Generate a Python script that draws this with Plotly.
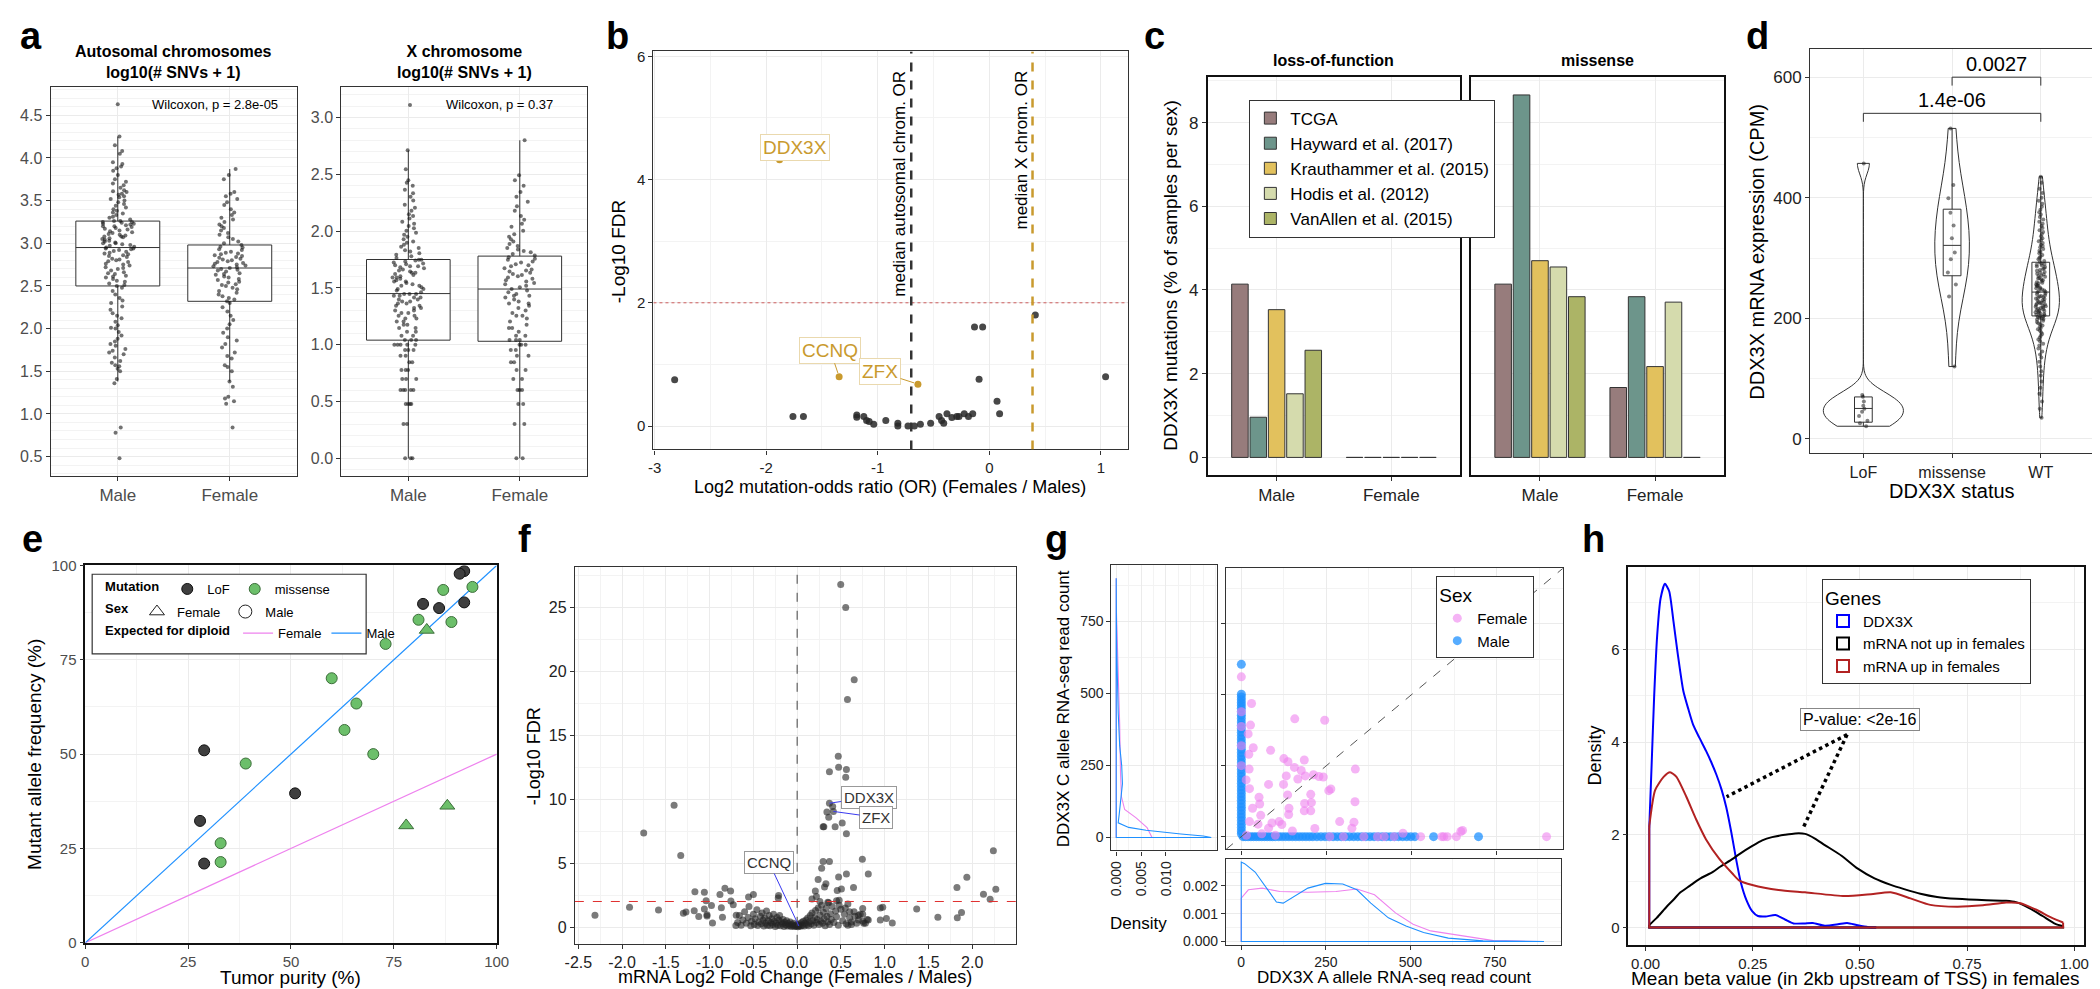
import numpy as np
import plotly.graph_objects as go

W, H = 2100, 989
FONT = "Liberation Sans, Arial, sans-serif"
GOLD = "#C99A2E"
PINK = "#EE82EE"
BLUE = "#1E90FF"

# ---------------- data ----------------
sexes = ["Male", "Female"]

# a) SNV burden per sample, log10(# SNVs + 1), autosomes
auto_male = [0.48, 0.78, 0.84, 1.36, 1.41, 1.50, 1.53, 1.56, 1.57, 1.60, 1.62, 1.66, 1.70, 1.72, 1.74, 1.76, 1.80,
             1.82, 1.85, 1.88, 1.92, 1.96, 2.00, 2.01, 2.04, 2.08, 2.12, 2.15, 2.18, 2.22, 2.26, 2.30, 2.33, 2.36,
             2.40, 2.44, 2.48, 2.50, 2.51, 2.53, 2.55, 2.56, 2.58, 2.60, 2.61, 2.62, 2.64, 2.65, 2.66, 2.68, 2.70,
             2.71, 2.72, 2.74, 2.75, 2.76, 2.78, 2.79, 2.80, 2.81, 2.82, 2.84, 2.85, 2.86, 2.87, 2.88, 2.89, 2.90,
             2.91, 2.92, 2.93, 2.94, 2.94, 2.95, 2.96, 2.97, 2.98, 2.99, 3.00, 3.00, 3.01, 3.02, 3.03, 3.04, 3.05,
             3.06, 3.07, 3.08, 3.08, 3.09, 3.10, 3.11, 3.12, 3.13, 3.14, 3.15, 3.16, 3.17, 3.18, 3.19, 3.20, 3.20,
             3.21, 3.22, 3.23, 3.23, 3.24, 3.25, 3.25, 3.26, 3.26, 3.28, 3.30, 3.31, 3.33, 3.35, 3.36, 3.38, 3.40,
             3.42, 3.44, 3.46, 3.48, 3.50, 3.52, 3.54, 3.55, 3.57, 3.58, 3.60, 3.61, 3.62, 3.65, 3.68, 3.70, 3.72,
             3.75, 3.80, 3.85, 3.88, 3.90, 3.93, 3.95, 4.05, 4.08, 4.15, 4.25, 4.63]
auto_female = [0.84, 1.12, 1.15, 1.18, 1.20, 1.32, 1.38, 1.50, 1.55, 1.57, 1.65, 1.68, 1.72, 1.78, 1.82, 1.86, 1.90,
               1.95, 2.00, 2.05, 2.10, 2.15, 2.20, 2.25, 2.30, 2.32, 2.34, 2.36, 2.38, 2.40, 2.42, 2.44, 2.46, 2.48,
               2.50, 2.51, 2.52, 2.54, 2.55, 2.57, 2.58, 2.60, 2.61, 2.63, 2.64, 2.65, 2.67, 2.68, 2.69, 2.70, 2.71,
               2.72, 2.73, 2.74, 2.75, 2.76, 2.77, 2.78, 2.79, 2.80, 2.81, 2.82, 2.83, 2.84, 2.85, 2.86, 2.87, 2.88,
               2.89, 2.90, 2.92, 2.93, 2.95, 2.96, 2.98, 3.00, 3.02, 3.05, 3.07, 3.10, 3.12, 3.15, 3.18, 3.20, 3.22,
               3.25, 3.28, 3.30, 3.33, 3.36, 3.40, 3.45, 3.48, 3.52, 3.55, 3.58, 3.60, 3.75, 3.80, 3.87]
# a) X chromosome SNV counts per sample
xchr_male_counts = [0, 0, 0, 1, 1, 2, 2, 2, 2, 3, 3, 3, 3, 3, 4, 4, 4, 5, 5, 5, 6, 6, 7, 7, 8, 8, 8, 9, 9, 9, 9, 9,
                    10, 10, 10, 11, 11, 12, 12, 13, 13, 14, 14, 15, 15, 16, 16, 17, 17, 18, 18, 19, 19, 20, 20, 21,
                    21, 22, 22, 23, 23, 24, 24, 25, 25, 26, 26, 27, 27, 27, 28, 29, 30, 30, 31, 32, 32, 33, 34, 35,
                    35, 36, 37, 38, 38, 39, 40, 41, 42, 42, 43, 44, 45, 46, 47, 48, 48, 49, 50, 51, 52, 53, 54, 55,
                    55, 57, 59, 61, 63, 65, 67, 70, 72, 75, 78, 80, 84, 88, 92, 96, 100, 105, 110, 115, 120, 128,
                    135, 140, 150, 160, 170, 185, 200, 215, 230, 250, 265, 280, 350, 515, 1287]
xchr_female_counts = [0, 0, 1, 1, 2, 2, 3, 3, 3, 4, 4, 5, 5, 6, 6, 7, 7, 8, 8, 9, 9, 9, 10, 10, 10, 11, 11, 12, 13,
                      13, 14, 15, 16, 17, 17, 18, 19, 20, 21, 22, 22, 23, 24, 25, 26, 26, 27, 28, 29, 30, 31, 32,
                      33, 34, 35, 36, 37, 38, 39, 40, 41, 42, 43, 44, 45, 46, 48, 49, 50, 52, 53, 55, 56, 58, 60,
                      62, 64, 66, 68, 70, 73, 76, 80, 84, 88, 93, 100, 108, 115, 125, 135, 150, 165, 180, 200, 220,
                      250, 280, 310, 630]
auto_q1, auto_med, auto_q3 = [2.50, 2.32], [2.95, 2.71], [3.26, 2.98]
auto_lo, auto_hi = [1.38, 1.38], [4.25, 3.87]
xchr_q1, xchr_med, xchr_q3 = [1.04, 1.03], [1.45, 1.49], [1.75, 1.78]
xchr_lo, xchr_hi = [0.0, 0.0], [2.71, 2.80]
wilcox_p = ["2.8e-05", "0.37"]

# b) mutation odds ratio vs FDR, X-linked genes
b_genes = [(-2.82, 0.75), (-1.76, 0.155), (-1.666, 0.155), (-1.188, 0.18), (-1.188, 0.144), (-1.125, 0.155),
           (-1.10, 0.09), (-1.077, 0.075), (-1.036, 0.027), (-0.928, 0.09), (-0.82, 0.043), (-0.82, 0.0),
           (-0.729, 0.0), (-0.672, 0.0), (-0.618, 0.027), (-0.526, 0.043), (-0.45, 0.155), (-0.428, 0.09),
           (-0.409, 0.043), (-0.38, 0.2), (-0.336, 0.139), (-0.292, 0.155), (-0.272, 0.155), (-0.225, 0.2),
           (-0.187, 0.155), (-0.149, 0.2), (-0.133, 1.607), (-0.06, 1.607), (-0.092, 0.76), (0.069, 0.404),
           (0.092, 0.2), (0.412, 1.8), (1.042, 0.8)]
b_hits = {"DDX3X": (-1.88, 4.32), "CCNQ": (-1.346, 0.80), "ZFX": (-0.64, 0.68)}
median_or_auto = -0.70
median_or_x = 0.387
fdr_cut = 2

# c) DDX3X mutation frequency per cohort
cohorts = ["TCGA", "Hayward et al. (2017)", "Krauthammer et al. (2015)", "Hodis et al. (2012)", "VanAllen et al. (2015)"]
cohort_colors = ["#977C7C", "#6D958B", "#E2C15D", "#D5DBAD", "#ACB466"]
lof_male = [4.14, 0.96, 3.53, 1.52, 2.56]
lof_female = [0, 0, 0, 0, 0]
mis_male = [4.14, 8.66, 4.70, 4.55, 3.84]
mis_female = [1.67, 3.84, 2.17, 3.71, 0]

# d) DDX3X expression by mutation status
status = ["LoF", "missense", "WT"]
expr_lof = [457, 73, 70, 62, 55, 50, 45, 38, 30, 26, 21]
expr_mis = [515, 421, 399, 375, 354, 333, 309, 298, 276, 256, 236, 120]
expr_wt = [35, 50, 62, 75, 85, 95, 105, 112, 120, 128, 135, 140, 145, 150, 155, 158, 162, 165, 168, 171, 174, 177,
           180, 182, 184, 186, 188, 190, 192, 194, 196, 198, 199, 200, 201, 202, 203, 204, 205, 206, 207, 208, 209,
           210, 211, 212, 213, 214, 215, 216, 217, 218, 219, 220, 221, 222, 223, 224, 225, 226, 227, 228, 229, 230,
           232, 233, 234, 235, 236, 237, 238, 240, 241, 243, 244, 245, 246, 248, 249, 250, 251, 253, 254, 255, 256,
           258, 259, 260, 262, 263, 265, 266, 267, 269, 270, 271, 273, 274, 276, 277, 279, 280, 282, 283, 285, 286,
           288, 289, 290, 291, 293, 295, 298, 300, 302, 305, 308, 310, 312, 315, 318, 320, 322, 325, 328, 330, 333,
           336, 340, 343, 346, 350, 353, 357, 360, 364, 368, 372, 376, 380, 385, 390, 395, 400, 408, 415, 425, 435]
expr_q1, expr_med, expr_q3 = [27.7, 270.6, 204], [50.5, 321, 243.5], [69.6, 381, 293]
expr_lo, expr_hi = [20.6, 120, 70], [73.4, 515, 435]
comparisons = [("LoF", "WT", 540, "1.4e-06"), ("missense", "WT", 600, "0.0027")]

# e) tumour purity vs mutant allele frequency
e_lof_male = [(92.1, 98.5), (91.0, 97.8), (82.1, 89.8), (86.0, 88.7), (92.1, 90.2), (28.9, 51.0), (51.0, 39.6),
              (27.9, 32.3), (28.9, 21.0)]
e_mis_male = [(87.0, 93.5), (94.1, 94.3), (81.0, 85.6), (89.0, 85.0), (73.0, 79.2), (59.9, 70.1), (65.9, 63.4),
              (63.0, 56.4), (70.0, 50.0), (39.0, 47.5), (32.9, 26.4), (32.9, 21.4)]
e_mis_female = [(83.0, 82.9), (88.0, 36.3), (78.0, 31.1)]
purity_ref = [0, 100]

# f) mRNA volcano, X-linked genes
f_genes = [(0.498, 26.8), (0.555, 25.0), (0.652, 19.36), (0.575, 17.8), (0.47, 13.36), (0.474, 12.5), (0.563, 12.33),
           (0.369, 12.15), (0.555, 11.72), (0.369, 9.69), (0.406, 9.44), (0.34, 9.0), (0.414, 9.05), (0.361, 8.6),
           (0.515, 8.15), (0.297, 7.85), (0.305, 7.85), (0.434, 7.85), (0.563, 7.3), (0.745, 5.3), (0.297, 5.13),
           (0.369, 5.13), (0.28, 4.6), (0.563, 4.15), (0.813, 4.15), (0.474, 3.92), (0.24, 3.72), (0.329, 3.38),
           (0.313, 3.13), (0.644, 3.1), (0.458, 2.87), (0.506, 2.97), (0.208, 2.82), (2.242, 5.97), (1.939, 3.9),
           (1.826, 3.1), (2.27, 2.95), (2.129, 2.56), (2.205, 2.18), (1.366, 1.41), (1.878, 1.13), (1.608, 0.77),
           (1.83, 0.72), (0.95, 1.49), (0.978, 1.54), (0.95, 0.56), (1.02, 0.67), (1.087, 0.31), (0.813, 0.56),
           (0.749, 1.0), (0.749, 1.46), (-1.406, 9.54), (-1.753, 7.36), (-1.33, 5.6), (-2.31, 0.92), (-1.915, 1.54),
           (-1.584, 1.33), (-1.3, 1.08), (-1.27, 1.18), (-1.168, 2.77), (-1.06, 2.72), (-1.04, 2.05), (-1.176, 1.28),
           (-1.124, 0.82), (-1.06, 1.41), (-0.979, 1.69), (-1.03, 0.97), (-1.03, 0.87), (-0.967, 0.31),
           (-0.866, 1.51), (-0.882, 2.54), (-0.825, 3.03), (-0.76, 2.82), (-0.757, 2.03), (-0.73, 1.74),
           (-0.853, 0.77), (-0.696, 0.92), (-0.555, 2.36), (-0.5, 2.54), (-0.212, 2.46), (-0.216, 2.28),
           (0.17, 2.2), (0.22, 2.4), (0.26, 2.0), (0.35, 1.95), (0.45, 2.05), (0.48, 1.7), (0.55, 1.5), (0.6, 1.2),
           (0.66, 0.85), (0.7, 0.55), (0.76, 0.3), (0.62, 0.2), (0.58, 0.15),
           (-0.70, 0.12), (-0.68, 0.35), (-0.66, 0.9), (-0.64, 0.15), (-0.62, 0.55), (-0.60, 1.2), (-0.58, 0.3),
           (-0.56, 0.75), (-0.55, 1.6), (-0.53, 0.1), (-0.52, 0.45), (-0.50, 1.0), (-0.49, 0.2), (-0.48, 0.65),
           (-0.46, 1.35), (-0.45, 0.12), (-0.44, 0.4), (-0.42, 0.85), (-0.41, 0.25), (-0.40, 1.1), (-0.39, 0.55),
           (-0.38, 0.08), (-0.37, 0.7), (-0.36, 0.3), (-0.35, 1.25), (-0.34, 0.15), (-0.33, 0.5), (-0.32, 0.9),
           (-0.31, 0.1), (-0.30, 0.35), (-0.29, 0.65), (-0.28, 0.2), (-0.27, 1.0), (-0.26, 0.45), (-0.25, 0.05),
           (-0.24, 0.3), (-0.23, 0.75), (-0.22, 0.15), (-0.21, 0.55), (-0.20, 0.9), (-0.19, 0.1), (-0.18, 0.4),
           (-0.17, 0.25), (-0.16, 0.6), (-0.15, 0.05), (-0.14, 0.35), (-0.13, 0.18), (-0.12, 0.5), (-0.11, 0.08),
           (-0.10, 0.3), (-0.09, 0.15), (-0.08, 0.4), (-0.07, 0.05), (-0.06, 0.22), (-0.05, 0.1), (-0.04, 0.3),
           (-0.03, 0.04), (-0.02, 0.15), (-0.01, 0.06), (0.00, 0.2), (0.02, 0.08), (0.01, 0.03), (0.02, 0.12),
           (0.03, 0.25), (0.04, 0.06), (0.05, 0.35), (0.06, 0.15), (0.07, 0.45), (0.08, 0.08), (0.09, 0.3),
           (0.10, 0.55), (0.11, 0.2), (0.12, 0.7), (0.13, 0.1), (0.14, 0.4), (0.15, 0.9), (0.16, 0.25), (0.17, 1.1),
           (0.18, 0.5), (0.19, 0.15), (0.20, 0.75), (0.21, 1.3), (0.22, 0.35), (0.23, 0.6), (0.24, 1.5), (0.25, 0.2),
           (0.26, 0.95), (0.27, 0.45), (0.28, 1.7), (0.29, 0.3), (0.30, 1.15), (0.31, 0.65), (0.32, 0.1),
           (0.33, 1.45), (0.34, 0.85), (0.35, 0.4), (0.36, 1.9), (0.37, 0.2), (0.38, 1.05), (0.39, 0.6), (0.40, 1.6),
           (0.42, 0.35), (0.44, 1.25), (0.45, 0.8), (0.47, 0.15), (0.48, 2.1), (0.50, 1.4), (0.52, 0.5), (0.54, 1.0),
           (0.56, 0.25), (0.58, 1.8), (0.60, 0.7), (0.62, 0.4), (0.65, 1.2), (0.68, 0.3), (0.70, 0.9), (0.72, 1.0),
           (0.75, 0.45), (0.78, 0.3), (0.80, 0.6)]
f_labels = {"DDX3X": ((0.369, 9.69), (0.817, 10.15)), "ZFX": ((0.414, 9.05), (0.902, 8.59)),
            "CCNQ": ((0.02, 0.08), (-0.321, 5.05))}

# g) allele-specific read counts (A allele, C allele)
g_male_c_only = [607, 502, 492, 482, 472, 462, 452, 440, 428, 416, 404, 392, 380, 368, 356, 344, 332, 320, 308, 296,
                 284, 272, 260, 248, 236, 224, 212, 200, 188, 176, 164, 152, 140, 128, 116, 104, 92, 80, 68, 56, 44,
                 32, 20, 10]
g_male_a_only = [5, 12, 20, 28, 36, 44, 52, 60, 68, 76, 84, 92, 100, 110, 120, 130, 140, 150, 160, 170, 180, 190, 200,
                 210, 222, 234, 246, 258, 270, 282, 294, 306, 318, 330, 342, 354, 366, 378, 390, 402, 414, 426, 438,
                 450, 462, 474, 486, 498, 510, 565, 697]
g_female = [(0, 563), (30, 469), (157, 415), (245, 410), (27, 393), (0, 388), (20, 362), (35, 313), (86, 304),
            (22, 290), (125, 275), (185, 270), (137, 264), (335, 238), (156, 244), (23, 238), (176, 233), (212, 218),
            (188, 214), (228, 212), (241, 210), (132, 214), (166, 203), (14, 200), (80, 184), (124, 184), (263, 168),
            (257, 162), (24, 169), (136, 147), (204, 149), (52, 139), (334, 123), (206, 120), (186, 117), (54, 115),
            (33, 100), (140, 100), (204, 91), (185, 91), (139, 78), (57, 75), (289, 53), (331, 51), (24, 53), (90, 48),
            (111, 53), (119, 43), (49, 44), (216, 29), (325, 30), (80, 30), (645, 18), (650, 22), (897, 0), (632, 0),
            (605, 0), (595, 0), (589, 0), (527, 0), (475, 12), (449, 0), (0, 320), (0, 440), (0, 250), (15, 5),
            (60, 10), (100, 5), (260, 0), (300, 0), (360, 0), (400, 0), (420, 0), (150, 20)]
g_c_grid_m = [0, 5, 12, 17, 25, 35, 51, 80, 130, 187, 250, 318, 432, 545, 659, 780, 900]
g_c_dens_m = [0.0191, 0.0175, 0.0130, 0.0098, 0.0060, 0.0025, 0.0004, 0.0006, 0.0009, 0.00125, 0.0011, 0.0007,
              0.0004, 0.0002, 0.0001, 0.00003, 0.0]
g_c_grid_f = [0, 34, 68, 97, 142, 222, 392, 505, 597, 676, 800, 900]
g_c_dens_f = [0.0072, 0.0062, 0.0040, 0.0017, 0.00105, 0.00086, 0.0007, 0.0005, 0.0003, 0.0001, 0.00002, 0.0]
g_a_grid_m = [0, 10, 41, 72, 104, 124, 155, 197, 249, 300, 342, 383, 435, 487, 539, 612, 715, 800, 895]
g_a_dens_m = [0.00286, 0.0028, 0.0025, 0.00198, 0.00142, 0.00138, 0.00162, 0.00192, 0.00209, 0.00207, 0.00186,
              0.00138, 0.00085, 0.00056, 0.00032, 0.00012, 0.00002, 0.00001, 0.0]
g_a_grid_f = [0, 21, 62, 114, 197, 280, 342, 394, 456, 508, 560, 612, 674, 746, 820, 895]
g_a_dens_f = [0.00156, 0.00186, 0.00192, 0.0018, 0.00177, 0.0018, 0.00189, 0.00168, 0.00103, 0.00062, 0.00038,
              0.00028, 0.00017, 0.00003, 0.00001, 0.0]

# h) promoter methylation densities
h_beta_ddx3x = [0.0085, 0.014, 0.02, 0.027, 0.035, 0.045, 0.055, 0.065, 0.075, 0.088, 0.1, 0.111, 0.125, 0.141, 0.153,
                0.165, 0.177, 0.188, 0.2, 0.211, 0.222, 0.235, 0.249, 0.262, 0.28, 0.303, 0.326, 0.345, 0.37, 0.39,
                0.418, 0.449, 0.47, 0.495, 0.52, 0.538]
h_dens_ddx3x = [2.15, 3.5, 5.0, 6.3, 7.1, 7.41, 7.25, 6.6, 5.9, 5.1, 4.7, 4.37, 4.1, 3.81, 3.57, 3.3, 2.98, 2.6, 2.05,
                1.48, 0.98, 0.6, 0.35, 0.25, 0.24, 0.27, 0.17, 0.09, 0.09, 0.1, 0.04, 0.07, 0.1, 0.05, 0.01, 0.0]
h_beta_notup = [0.0085, 0.026, 0.049, 0.065, 0.08, 0.103, 0.126, 0.157, 0.172, 0.203, 0.218, 0.249, 0.272, 0.295,
                0.325, 0.349, 0.372, 0.395, 0.418, 0.457, 0.495, 0.534, 0.572, 0.603, 0.641, 0.68, 0.726, 0.795,
                0.841, 0.864, 0.895, 0.926, 0.956, 0.974]
h_dens_notup = [0.056, 0.21, 0.45, 0.6, 0.75, 0.9, 1.05, 1.2, 1.3, 1.48, 1.58, 1.76, 1.88, 1.95, 2.0, 2.03, 2.02, 1.92,
                1.78, 1.55, 1.27, 1.06, 0.92, 0.83, 0.73, 0.66, 0.62, 0.59, 0.58, 0.55, 0.42, 0.25, 0.08, 0.03]
h_beta_up = [0.0085, 0.022, 0.042, 0.057, 0.072, 0.095, 0.118, 0.141, 0.172, 0.203, 0.218, 0.249, 0.31, 0.372, 0.464,
             0.526, 0.572, 0.618, 0.664, 0.726, 0.787, 0.841, 0.872, 0.91, 0.948, 0.974]
h_dens_up = [2.19, 2.96, 3.25, 3.35, 3.25, 2.82, 2.33, 1.9, 1.48, 1.16, 1.02, 0.92, 0.81, 0.76, 0.68, 0.72, 0.76, 0.63,
             0.49, 0.45, 0.48, 0.54, 0.53, 0.39, 0.21, 0.11]
h_pvalue = "P-value: &lt;2e-16"


# ---------------- helpers ----------------
def xd(a, b):
    return [a / W, b / W]


def yd(top, bottom):
    return [1 - bottom / H, 1 - top / H]


def minor(dtick):
    return dict(showgrid=True, gridcolor="#F3F3F3", gridwidth=0.7, tickmode="linear", tick0=0, dtick=dtick)


def axis(domain, anchor, rng, size=15, color="#222222", line="#333333", lw=1.2, **kw):
    d = dict(domain=domain, anchor=anchor, range=rng, showline=True, mirror=True, linecolor=line, linewidth=lw,
             ticks="outside", ticklen=4, tickcolor="#333333", tickwidth=1, showgrid=True, gridcolor="#EBEBEB",
             gridwidth=1, zeroline=False, tickfont=dict(size=size, color=color, family=FONT))
    d.update(kw)
    return d


def txt(x, y, s, size=18, **kw):
    # text placed in page pixels, centred on (x, y)
    d = dict(x=x / W, y=1 - y / H, xref="paper", yref="paper", text=s, showarrow=False,
             xanchor="center", yanchor="middle", font=dict(size=size, color="black", family=FONT))
    d.update(kw)
    return d


fig = go.Figure()
annotations = []
shapes = []

# ---------------- a ----------------
a_sets = [("x", "y", auto_male, auto_female, auto_q1, auto_med, auto_q3, auto_lo, auto_hi),
          ("x2", "y2", list(np.log10(np.array(xchr_male_counts) + 1)),
           list(np.log10(np.array(xchr_female_counts) + 1)), xchr_q1, xchr_med, xchr_q3, xchr_lo, xchr_hi)]
for xa, ya, vm, vf, q1, md, q3, lo, hi in a_sets:
    fig.add_trace(go.Box(x=sexes, q1=q1, median=md, q3=q3, lowerfence=lo, upperfence=hi, width=0.75,
                         whiskerwidth=0, fillcolor="white", line=dict(color="#333333", width=1),
                         boxpoints=False, xaxis=xa, yaxis=ya, showlegend=False, hoverinfo="skip"))
    for sex, vals in zip(sexes, [vm, vf]):
        fig.add_trace(go.Box(x=[sex] * len(vals), y=vals, boxpoints="all", jitter=0.4, pointpos=0, width=0.75,
                             fillcolor="rgba(0,0,0,0)", line=dict(width=0, color="rgba(0,0,0,0)"),
                             marker=dict(size=4, color="rgba(20,20,20,0.6)"), xaxis=xa, yaxis=ya,
                             showlegend=False, hoverinfo="skip"))

annotations += [
    txt(157, 46, "<b>Autosomal chromosomes<br>log10(# SNVs + 1)</b>", 16),
    txt(451, 46, "<b>X chromosome<br>log10(# SNVs + 1)</b>", 16),
    txt(199, 89, "Wilcoxon, p = " + wilcox_p[0], 13),
    txt(487, 89, "Wilcoxon, p = " + wilcox_p[1], 13),
]

# ---------------- b ----------------
fig.add_trace(go.Scatter(x=[p[0] for p in b_genes], y=[p[1] for p in b_genes], mode="markers",
                         marker=dict(size=7, color="rgba(40,40,40,0.85)"), xaxis="x3", yaxis="y3",
                         showlegend=False, hoverinfo="skip"))
fig.add_trace(go.Scatter(x=[v[0] for v in b_hits.values()], y=[v[1] for v in b_hits.values()], mode="markers",
                         marker=dict(size=7, color=GOLD), xaxis="x3", yaxis="y3", showlegend=False,
                         hoverinfo="skip"))
shapes += [
    dict(type="line", xref="x3", yref="y3", x0=-3.01, x1=1.24, y0=fdr_cut, y1=fdr_cut,
         line=dict(color="#CD5C5C", width=1, dash="dot")),
    dict(type="line", xref="x3", yref="y3", x0=median_or_auto, x1=median_or_auto, y0=-0.38, y1=6.08,
         line=dict(color="#333333", width=2.5, dash="dash")),
    dict(type="line", xref="x3", yref="y3", x0=median_or_x, x1=median_or_x, y0=-0.38, y1=6.08,
         line=dict(color=GOLD, width=2.5, dash="dash")),
]
annotations += [
    dict(x=median_or_auto - 0.1, y=5.8, xref="x3", yref="y3", text="median autosomal chrom. OR", textangle=-90,
         showarrow=False, xanchor="center", yanchor="top", font=dict(size=17, color="black", family=FONT)),
    dict(x=median_or_x - 0.1, y=5.8, xref="x3", yref="y3", text="median X chrom. OR", textangle=-90,
         showarrow=False, xanchor="center", yanchor="top", font=dict(size=17, color="black", family=FONT)),
    dict(x=-1.745, y=4.52, xref="x3", yref="y3", text="DDX3X", showarrow=False, bgcolor="white",
         bordercolor="#EAD9AE", borderwidth=1, borderpad=2, font=dict(size=19, color=GOLD, family=FONT)),
]
for gname, lab in (("CCNQ", (-1.426, 1.23)), ("ZFX", (-0.979, 0.878))):
    px_, py_ = b_hits[gname]
    annotations.append(dict(x=px_, y=py_, ax=lab[0], ay=lab[1], xref="x3", yref="y3", axref="x3", ayref="y3",
                            text=gname, showarrow=True, arrowhead=0, arrowwidth=1, arrowcolor=GOLD, standoff=4,
                            bgcolor="white", bordercolor="#EAD9AE", borderwidth=1, borderpad=2,
                            font=dict(size=19, color=GOLD, family=FONT)))
annotations += [
    txt(608, 238, "-Log10 FDR", 19, textangle=-90),
    txt(882, 478, "Log2 mutation-odds ratio (OR) (Females / Males)", 18),
]

# ---------------- c ----------------
for i, name in enumerate(cohorts):
    for xa, ya, m, f in (("x4", "y4", lof_male, lof_female), ("x5", "y5", mis_male, mis_female)):
        fig.add_trace(go.Bar(x=sexes, y=[m[i], f[i]], name=name, xaxis=xa, yaxis=ya, legend="legend",
                             marker=dict(color=cohort_colors[i], line=dict(color="#333333", width=1)),
                             showlegend=(xa == "x4"), hoverinfo="skip"))
annotations += [
    txt(1330, 44, "<b>loss-of-function</b>", 16),
    txt(1597, 44, "<b>missense</b>", 16),
    txt(1165, 263, "DDX3X mutations (% of samples per sex)", 19, textangle=-90),
]

# ---------------- d ----------------
for st, vals, wd in zip(status, [expr_lof, expr_mis, expr_wt], [0.9, 0.39, 0.42]):
    fig.add_trace(go.Violin(x=[st] * len(vals), y=vals, spanmode="hard", scalemode="width", width=wd,
                            line=dict(color="#333333", width=1), fillcolor="rgba(255,255,255,0)", points=False,
                            box_visible=False, meanline_visible=False, xaxis="x6", yaxis="y6",
                            showlegend=False, hoverinfo="skip"))
fig.add_trace(go.Box(x=status, q1=expr_q1, median=expr_med, q3=expr_q3, lowerfence=expr_lo, upperfence=expr_hi,
                     width=0.2, whiskerwidth=0, fillcolor="rgba(255,255,255,0)",
                     line=dict(color="#333333", width=1), boxpoints=False, xaxis="x6", yaxis="y6",
                     showlegend=False, hoverinfo="skip"))
for st, vals in zip(status, [expr_lof, expr_mis, expr_wt]):
    fig.add_trace(go.Box(x=[st] * len(vals), y=vals, boxpoints="all", jitter=0.6, pointpos=0, width=0.2,
                         fillcolor="rgba(0,0,0,0)", line=dict(width=0, color="rgba(0,0,0,0)"),
                         marker=dict(size=4, color="rgba(30,30,30,0.55)"), xaxis="x6", yaxis="y6",
                         showlegend=False, hoverinfo="skip"))
for g1, g2, yb, lab in comparisons:
    i1, i2 = status.index(g1), status.index(g2)
    for xs, ys in (((i1, i1), (yb - 14, yb)), ((i1, i2), (yb, yb)), ((i2, i2), (yb - 14, yb))):
        shapes.append(dict(type="line", xref="x6", yref="y6", x0=xs[0], x1=xs[1], y0=ys[0], y1=ys[1],
                           line=dict(color="#333333", width=1)))
    annotations.append(dict(x=(i1 + i2) / 2, y=yb, xref="x6", yref="y6", text=lab, showarrow=False,
                            yanchor="bottom", font=dict(size=20, color="black", family=FONT)))
annotations += [
    txt(1758, 239, "DDX3X mRNA expression (CPM)", 20, textangle=-90),
    txt(1955, 482, "DDX3X status", 20),
]

# ---------------- e ----------------
fig.add_trace(go.Scatter(x=purity_ref, y=[p / 2 for p in purity_ref], mode="lines", name="Female",
                         line=dict(color=PINK, width=1.2), xaxis="x7", yaxis="y7", legend="legend6"))
fig.add_trace(go.Scatter(x=purity_ref, y=purity_ref, mode="lines", name="Male",
                         line=dict(color=BLUE, width=1.2), xaxis="x7", yaxis="y7", legend="legend6"))
fig.add_trace(go.Scatter(x=[p[0] for p in e_lof_male], y=[p[1] for p in e_lof_male], mode="markers", name="LoF",
                         marker=dict(size=11, color="#3F3F3F", line=dict(color="#111111", width=1)),
                         xaxis="x7", yaxis="y7", legend="legend4"))
fig.add_trace(go.Scatter(x=[p[0] for p in e_mis_male], y=[p[1] for p in e_mis_male], mode="markers",
                         name="missense",
                         marker=dict(size=11, color="#6CBF6A", line=dict(color="#3C6E3A", width=1)),
                         xaxis="x7", yaxis="y7", legend="legend4"))
fig.add_trace(go.Scatter(x=[p[0] for p in e_mis_female], y=[p[1] for p in e_mis_female], mode="markers",
                         marker=dict(size=13, symbol="triangle-up", color="#6CBF6A",
                                     line=dict(color="#3C6E3A", width=1)),
                         xaxis="x7", yaxis="y7", showlegend=False))
for nm, sym in (("Female", "triangle-up-open"), ("Male", "circle-open")):
    fig.add_trace(go.Scatter(x=[None], y=[None], mode="markers", name=nm,
                             marker=dict(size=13, symbol=sym, color="#222222", line=dict(width=1)),
                             xaxis="x7", yaxis="y7", legend="legend5"))
shapes.append(dict(type="rect", xref="paper", yref="paper", x0=75 / W, x1=352 / W, y0=1 - 648 / H, y1=1 - 567 / H,
                   line=dict(color="#333333", width=1.2), fillcolor="white", layer="above"))
annotations += [
    txt(16, 750, "Mutant allele frequency (%)", 19, textangle=-90),
    txt(276, 977, "Tumor purity (%)", 19),
]

# ---------------- f ----------------
fig.add_trace(go.Scatter(x=[p[0] for p in f_genes], y=[p[1] for p in f_genes], mode="markers",
                         marker=dict(size=7, color="rgba(35,35,35,0.6)"), xaxis="x8", yaxis="y8",
                         showlegend=False, hoverinfo="skip"))
shapes += [
    dict(type="line", xref="x8", yref="y8", x0=0, x1=0, y0=-1.31, y1=28.15,
         line=dict(color="#444444", width=1, dash="dash")),
    dict(type="line", xref="x8", yref="y8", x0=-2.54, x1=2.5, y0=fdr_cut, y1=fdr_cut,
         line=dict(color="#E0302F", width=1, dash="dash")),
]
for gname, (pt, lab) in f_labels.items():
    annotations.append(dict(x=pt[0], y=pt[1], ax=lab[0], ay=lab[1], xref="x8", yref="y8", axref="x8", ayref="y8",
                            text=gname, showarrow=True, arrowhead=0, arrowwidth=1, arrowcolor="#3A3AF0",
                            standoff=0, bgcolor="white", bordercolor="#999999", borderwidth=1, borderpad=2,
                            font=dict(size=15, color="#333333", family=FONT)))
annotations += [
    txt(522, 752, "-Log10 FDR", 18, textangle=-90),
    txt(786, 977, "mRNA Log2 Fold Change (Females / Males)", 18),
]

# ---------------- g ----------------
fig.add_trace(go.Scatter(x=[0] * len(g_male_c_only) + g_male_a_only, y=g_male_c_only + [0] * len(g_male_a_only),
                         mode="markers", name="Male", marker=dict(size=9, color="rgba(30,144,255,0.75)"),
                         xaxis="x10", yaxis="y10", legend="legend2"))
fig.add_trace(go.Scatter(x=[p[0] for p in g_female], y=[p[1] for p in g_female], mode="markers", name="Female",
                         marker=dict(size=9, color="rgba(238,130,238,0.6)"), xaxis="x10", yaxis="y10",
                         legend="legend2"))
shapes.append(dict(type="line", xref="x10", yref="y10", x0=-45, x1=945, y0=-45, y1=945,
                   line=dict(color="#555555", width=1, dash="dash")))
for grid, dens, col in ((g_c_grid_f, g_c_dens_f, PINK), (g_c_grid_m, g_c_dens_m, BLUE)):
    fig.add_trace(go.Scatter(x=[0, 0, dens[0]] + dens, y=[grid[-1], 0, 0] + grid, mode="lines",
                             line=dict(color=col, width=1.1), xaxis="x9", yaxis="y9", showlegend=False,
                             hoverinfo="skip"))
for grid, dens, col in ((g_a_grid_f, g_a_dens_f, PINK), (g_a_grid_m, g_a_dens_m, BLUE)):
    fig.add_trace(go.Scatter(x=[grid[-1], 0, 0] + grid, y=[0, 0, dens[0]] + dens, mode="lines",
                             line=dict(color=col, width=1.1), xaxis="x11", yaxis="y11", showlegend=False,
                             hoverinfo="skip"))
annotations += [
    txt(1057, 704, "DDX3X C allele RNA-seq read count", 17, textangle=-90),
    txt(1391, 977, "DDX3X A allele RNA-seq read count", 17),
    txt(1133, 922, "Density", 17),
]

# ---------------- h ----------------
for xs, ys, col, nm in ((h_beta_ddx3x, h_dens_ddx3x, "#0000FF", "DDX3X"),
                        (h_beta_notup, h_dens_notup, "#000000", "mRNA not up in females"),
                        (h_beta_up, h_dens_up, "#B22222", "mRNA up in females")):
    fig.add_trace(go.Scatter(x=xs, y=ys, mode="lines", line=dict(color=col, width=2, shape="spline", smoothing=0.6),
                             xaxis="x12", yaxis="y12", showlegend=False, hoverinfo="skip"))
    fig.add_trace(go.Scatter(x=[xs[0], xs[0], xs[-1], xs[-1]], y=[ys[0], 0, 0, ys[-1]], mode="lines",
                             line=dict(color=col, width=2), xaxis="x12", yaxis="y12", showlegend=False,
                             hoverinfo="skip"))
    fig.add_trace(go.Scatter(x=[None], y=[None], mode="markers", name=nm,
                             marker=dict(size=12, symbol="square-open", color=col, line=dict(width=2)),
                             xaxis="x12", yaxis="y12", legend="legend3"))
for x1, y1 in ((0.189, 2.82), (0.366, 2.12)):
    shapes.append(dict(type="line", xref="x12", yref="y12", x0=0.47, y0=4.16, x1=x1, y1=y1,
                       line=dict(color="black", width=3.5, dash="dot")))
annotations += [
    dict(x=0.5, y=4.49, xref="x12", yref="y12", text=h_pvalue, showarrow=False, bgcolor="white",
         bordercolor="#888888", borderwidth=1, borderpad=2, font=dict(size=16, color="black", family=FONT)),
    txt(1595, 752, "Density", 18, textangle=-90),
    txt(1858, 978, "Mean beta value (in 2kb upstream of TSS) in females", 19),
]

# ---------------- panel letters ----------------
for lt, x, y in (("a", 0, 19), ("b", 592, 19), ("c", 1136, 19), ("d", 1745, 19),
                 ("e", 2, 531), ("f", 504, 531), ("g", 1036, 531), ("h", 1579, 531)):
    annotations.append(txt(x, y, "<b>%s</b>" % lt, 38, xanchor="left"))

# ---------------- layout ----------------
GRAY = "#4D4D4D"
layout = dict(
    width=W, height=H, margin=dict(l=0, r=0, t=0, b=0), autosize=False,
    paper_bgcolor="white", plot_bgcolor="white", font=dict(family=FONT, color="black"),
    bargap=0.2, bargroupgap=0.1, barmode="group", boxmode="overlay", violinmode="overlay",
    violingap=0, violingroupgap=0,
    xaxis=axis(xd(33, 282), "y", [-0.6, 1.6], 17, GRAY, type="category", categoryorder="array",
               categoryarray=sexes),
    yaxis=axis(yd(71, 467), "x", [0.273, 4.834], 16, GRAY, dtick=0.5, tick0=0, tickformat=".1f", minor=minor(0.1)),
    xaxis2=axis(xd(327, 575), "y2", [-0.6, 1.6], 17, GRAY, type="category", categoryorder="array",
                categoryarray=sexes),
    yaxis2=axis(yd(71, 467), "x2", [-0.156, 3.271], 16, GRAY, dtick=0.5, tick0=0, tickformat=".1f",
                minor=minor(0.1)),
    xaxis3=axis(xd(642.5, 1122), "y3", [-3.01, 1.24], 15, tickvals=[-3, -2, -1, 0, 1],
                ticktext=["-3", "-2", "-1", "0", "1"], minor=minor(0.5)),
    yaxis3=axis(yd(35, 440), "x3", [-0.38, 6.08], 15, dtick=2, minor=minor(1)),
    xaxis4=axis(xd(1203, 1458), "y4", [-0.6, 1.6], 17, line="#111111", lw=1.8, type="category",
                categoryorder="array", categoryarray=sexes),
    yaxis4=axis(yd(61, 466), "x4", [-0.42, 9.09], 17, line="#111111", lw=1.8, dtick=2, minor=minor(1)),
    xaxis5=axis(xd(1469, 1725), "y5", [-0.6, 1.6], 17, line="#111111", lw=1.8, type="category",
                categoryorder="array", categoryarray=sexes),
    yaxis5=axis(yd(61, 466), "x5", [-0.42, 9.09], 17, line="#111111", lw=1.8, dtick=2, minor=minor(1),
                showticklabels=False, ticks=""),
    xaxis6=axis(xd(1812, 2099), "y6", [-0.6, 2.6], 16, type="category", categoryorder="array",
                categoryarray=status),
    yaxis6=axis(yd(33, 444), "x6", [-24, 646], 17, dtick=200, minor=minor(100)),
    xaxis7=axis(xd(68, 484), "y7", [0, 100], 15, GRAY, line="#111111", lw=1.5, dtick=25, minor=minor(12.5)),
    yaxis7=axis(yd(558, 942), "x7", [0, 100], 15, GRAY, line="#111111", lw=1.5, dtick=25, minor=minor(12.5)),
    xaxis8=axis(xd(563, 1009), "y8", [-2.54, 2.5], 16,
                tickvals=[-2.5, -2, -1.5, -1, -0.5, 0, 0.5, 1, 1.5, 2],
                ticktext=["-2.5", "-2.0", "-1.5", "-1.0", "-0.5", "0.0", "0.5", "1.0", "1.5", "2.0"],
                minor=minor(0.25)),
    yaxis8=axis(yd(560, 943), "x8", [-1.31, 28.15], 16, dtick=5, minor=minor(2.5)),
    xaxis9=axis(xd(1105.5, 1212.5), "y9", [-0.00097, 0.0203], 14, tickvals=[0, 0.005, 0.01],
                ticktext=["0.000", "0.005", "0.010"], tickangle=-90, minor=minor(0.0025)),
    yaxis9=axis(yd(558, 848), "x9", [-45, 945], 14, tickvals=[0, 250, 500, 750], minor=minor(125)),
    xaxis10=axis(xd(1221.4, 1562), "y10", [-45, 945], 14, tickvals=[0, 250, 500, 750], showticklabels=False,
                 minor=minor(125)),
    yaxis10=axis(yd(561, 847), "x10", [-45, 945], 14, tickvals=[0, 250, 500, 750], showticklabels=False,
                 minor=minor(125)),
    xaxis11=axis(xd(1221.4, 1560), "y11", [-45, 945], 14, tickvals=[0, 250, 500, 750], minor=minor(125)),
    yaxis11=axis(yd(856.7, 944), "x11", [-0.00012, 0.00297], 14, tickvals=[0, 0.001, 0.002],
                 ticktext=["0.000", "0.001", "0.002"], minor=minor(0.0005)),
    xaxis12=axis(xd(1628.3, 2089), "y12", [-0.04, 1.023], 15, line="#111111", lw=1.8,
                 tickvals=[0, 0.25, 0.5, 0.75, 1], ticktext=["0.00", "0.25", "0.50", "0.75", "1.00"],
                 minor=minor(0.125)),
    yaxis12=axis(yd(559.3, 944), "x12", [-0.37, 7.78], 15, line="#111111", lw=1.8, dtick=2, minor=minor(1)),
    legend=dict(x=1245 / W, y=1 - 84 / H, xanchor="left", yanchor="top", bgcolor="white", bordercolor="#333333",
                borderwidth=1, font=dict(size=17, color="black", family=FONT), tracegroupgap=0),
    legend2=dict(x=1434 / W, y=1 - 569 / H, xanchor="left", yanchor="top", bgcolor="white", bordercolor="#333333",
                 borderwidth=1, font=dict(size=15, color="black", family=FONT), traceorder="reversed",
                 title=dict(text="Sex", font=dict(size=19, family=FONT))),
    legend3=dict(x=1824 / W, y=1 - 572 / H, xanchor="left", yanchor="top", bgcolor="white", bordercolor="#333333",
                 borderwidth=1, font=dict(size=15, color="black", family=FONT),
                 title=dict(text="Genes", font=dict(size=19, family=FONT))),
    annotations=annotations,
    shapes=shapes,
)
for k, yrow, title in (("legend4", 582, "<b>Mutation</b>"), ("legend5", 605, "<b>Sex</b>"),
                       ("legend6", 627, "<b>Expected for diploid</b>")):
    layout[k] = dict(x=86 / W, y=1 - yrow / H, xanchor="left", yanchor="middle", orientation="h",
                     bgcolor="rgba(0,0,0,0)", borderwidth=0, font=dict(size=13, color="black", family=FONT),
                     title=dict(text=title, side="left", font=dict(size=13, family=FONT)))
fig.update_layout(**layout)
fig.write_html("out.html")
